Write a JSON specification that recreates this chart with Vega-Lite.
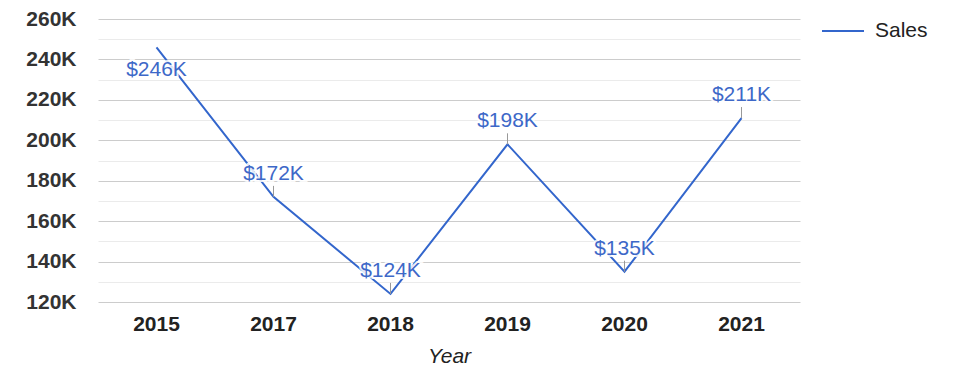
{
  "$schema": "https://vega.github.io/schema/vega-lite/v6.json",
  "width": 702,
  "height": 283,
  "autosize": "none",
  "padding": {"left": 98, "top": 19, "right": 175, "bottom": 76},
  "background": "white",
  "config": {
    "view": {"stroke": null},
    "font": "Liberation Sans"
  },
  "data": {
    "values": [
      {"Year": "2015", "Sales": 246000, "Label": "$246K"},
      {"Year": "2017", "Sales": 172000, "Label": "$172K"},
      {"Year": "2018", "Sales": 124000, "Label": "$124K"},
      {"Year": "2019", "Sales": 198000, "Label": "$198K"},
      {"Year": "2020", "Sales": 135000, "Label": "$135K"},
      {"Year": "2021", "Sales": 211000, "Label": "$211K"}
    ]
  },
  "encoding": {
    "x": {
      "field": "Year",
      "type": "ordinal",
      "axis": {
        "labelAngle": 0,
        "labelFont": "Liberation Sans",
        "labelFontSize": 21,
        "labelFontWeight": "bold",
        "labelColor": "#222222",
        "labelPadding": 11,
        "domain": false,
        "ticks": false,
        "grid": false,
        "title": "Year",
        "titleFont": "Liberation Sans",
        "titleFontSize": 21,
        "titleFontWeight": "normal",
        "titleFontStyle": "italic",
        "titleColor": "#222222",
        "titlePadding": 11
      }
    },
    "y": {
      "field": "Sales",
      "type": "quantitative",
      "scale": {"domain": [120000, 260000], "nice": false, "zero": false},
      "axis": {
        "values": [120000, 130000, 140000, 150000, 160000, 170000, 180000, 190000, 200000, 210000, 220000, 230000, 240000, 250000, 260000],
        "labelExpr": "datum.value % 20000 === 0 ? (datum.value / 1000) + 'K' : ''",
        "labelFont": "Liberation Sans",
        "labelFontSize": 21,
        "labelFontWeight": "bold",
        "labelColor": "#333333",
        "labelPadding": 22,
        "domain": false,
        "ticks": false,
        "title": null,
        "gridColor": {"condition": {"test": "datum.value % 20000 === 0", "value": "#cccccc"}, "value": "#ebebeb"},
        "gridWidth": 1
      }
    }
  },
  "layer": [
    {
      "mark": {"type": "line", "strokeWidth": 2},
      "encoding": {
        "color": {
          "datum": "Sales",
          "type": "nominal",
          "scale": {"range": ["#3366cc"]},
          "legend": {
            "title": null,
            "orient": "none",
            "legendX": 723,
            "legendY": -10,
            "symbolType": "stroke",
            "symbolSize": 1764,
            "symbolStrokeWidth": 2,
            "labelFont": "Liberation Sans",
            "labelFontSize": 21,
            "labelColor": "#222222",
            "labelOffset": 10
          }
        }
      }
    },
    {
      "transform": [{"filter": "datum.Year !== '2015'"}],
      "mark": {"type": "rule", "color": "#999999", "strokeWidth": 1, "y2Offset": -11},
      "encoding": {"y2": {"field": "Sales"}}
    },
    {
      "transform": [{"filter": "datum.Year === '2015'"}],
      "mark": {"type": "text", "fontSize": 21, "font": "Liberation Sans", "baseline": "middle", "dy": 23, "stroke": "white", "strokeWidth": 4, "strokeOpacity": 0.85, "fill": "white"},
      "encoding": {"text": {"field": "Label"}}
    },
    {
      "transform": [{"filter": "datum.Year !== '2015'"}],
      "mark": {"type": "text", "fontSize": 21, "font": "Liberation Sans", "baseline": "middle", "dy": -23, "stroke": "white", "strokeWidth": 4, "strokeOpacity": 0.85, "fill": "white"},
      "encoding": {"text": {"field": "Label"}}
    },
    {
      "transform": [{"filter": "datum.Year === '2015'"}],
      "mark": {"type": "text", "fontSize": 21, "font": "Liberation Sans", "baseline": "middle", "dy": 23, "color": "#3d68c8"},
      "encoding": {"text": {"field": "Label"}}
    },
    {
      "transform": [{"filter": "datum.Year !== '2015'"}],
      "mark": {"type": "text", "fontSize": 21, "font": "Liberation Sans", "baseline": "middle", "dy": -23, "color": "#3d68c8"},
      "encoding": {"text": {"field": "Label"}}
    }
  ]
}
